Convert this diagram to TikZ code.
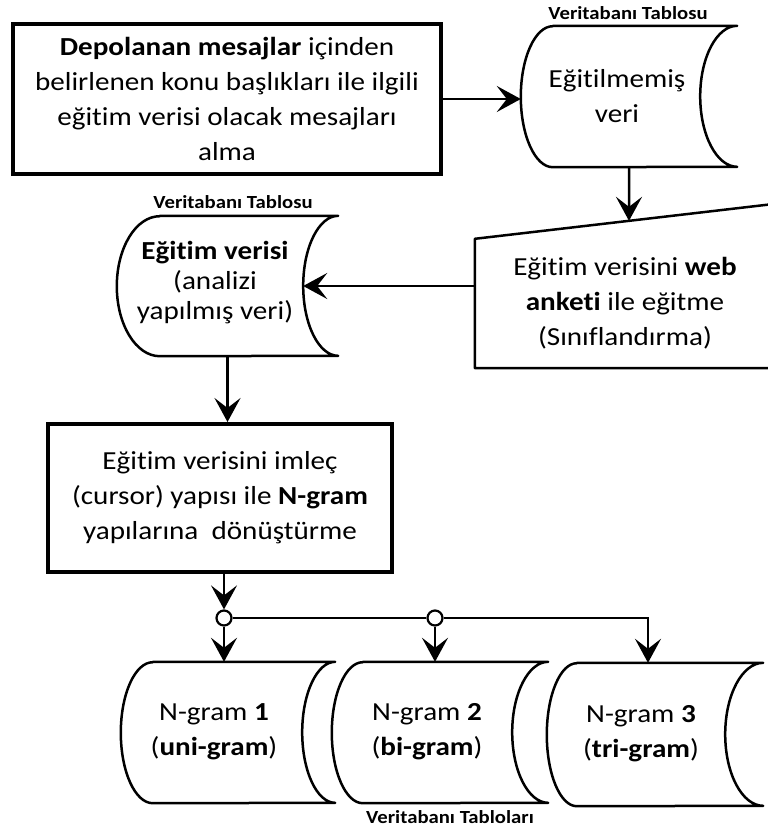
\documentclass[tikz,border=0pt]{standalone}
\usepackage{fontspec}
\setmainfont{Carlito}[FakeStretch=1.12, Ligatures=NoCommon]
\usetikzlibrary{arrows.meta,calc}

% outline of a "stored data" symbol drawn on a region node
% #1 node, #2 left bulge radius, #3 right hollow radius, #4 half height
\newcommand\storedoutline[4]{%
  \draw[storeline] ([xshift=#2pt]#1.north west) -- (#1.north east)
    arc[start angle=90, end angle=270, x radius=#3pt, y radius=#4pt]
    -- ([xshift=#2pt]#1.south west)
    arc[start angle=270, end angle=90, x radius=#2pt, y radius=#4pt]
    -- cycle;}

\tikzset{
  flowbox/.style={draw, rectangle, line width=4pt, inner sep=0pt, align=center,
                  font=\fontsize{26}{35}\selectfont},
  region/.style={rectangle, inner sep=0pt},
  storeline/.style={line width=2.5pt, line join=round},
  txt/.style={align=center, inner sep=0pt, font=\fontsize{26}{35}\selectfont},
  tag/.style={inner sep=0pt, font=\bfseries\fontsize{18.5}{20}\selectfont},
  flow/.style={line width=2.5pt, -{Stealth[length=24pt,width=26pt,inset=10pt]}},
  link/.style={line width=2.5pt},
  junction/.style={circle, draw, fill=white, line width=2.2pt, minimum size=15pt, inner sep=0pt},
}

\begin{document}
\begin{tikzpicture}[x=1pt, y=-1pt]
\useasboundingbox (0,0) rectangle (768,830);
\clip (0,0) rectangle (768,830);

% first step
\node[flowbox, minimum width=428pt, minimum height=150pt] (take) at (227,99)
  {\textbf{Depolanan mesajlar} içinden\\belirlenen konu başlıkları ile ilgili\\eğitim verisi olacak mesajları\\alma};

% raw data table
\node[region, minimum width=216pt, minimum height=141pt] (raw) at (629,96.5) {};
\storedoutline{raw}{32}{37}{70.5}
\node[txt] (rawtext) at (617,96.5) {Eğitilmemiş\\veri};
\node[tag] (rawtag) at (628,13) {Veritabanı Tablosu};

% manual classification (manual input symbol)
\node[region, txt, minimum width=300pt, minimum height=129pt] (web) at (625,303.5)
  {Eğitim verisini \textbf{web}\\\textbf{anketi} ile eğitme\\(Sınıflandırma)};
\coordinate (webne) at ([yshift=35pt]web.north east);
\draw[storeline] (web.north west) -- (webne) -- (web.south east) -- (web.south west) -- cycle;
\path (web.north west) -- (webne) coordinate[pos=0.5133] (webin);

% training data table
\node[region, minimum width=221pt, minimum height=140pt] (train) at (227.5,286) {};
\storedoutline{train}{43}{35}{70}
\node[txt, font=\fontsize{26}{30}\selectfont] (traintext) at (215,283)
  {\textbf{Eğitim verisi}\\(analizi\\yapılmış veri)};
\node[tag] (traintag) at (233,202) {Veritabanı Tablosu};

% conversion step
\node[flowbox, minimum width=344pt, minimum height=148pt] (convert) at (220,498)
  {Eğitim verisini imleç\\(cursor) yapısı ile \textbf{N-gram}\\yapılarına\ \ dönüştürme};

% n-gram tables
\node[region, minimum width=214pt, minimum height=141pt] (uni) at (228,732.5) {};
\storedoutline{uni}{32}{33}{70.5}
\node[txt] (unitext) at (214,732) {N-gram \textbf{1}\\(\textbf{uni-gram})};

\node[region, minimum width=216pt, minimum height=141pt] (bi) at (440,732.5) {};
\storedoutline{bi}{31}{36}{70.5}
\node[txt] (bitext) at (427,732) {N-gram \textbf{2}\\(\textbf{bi-gram})};

\node[region, minimum width=216pt, minimum height=143pt] (tri) at (655,734.5) {};
\storedoutline{tri}{30}{38}{71.5}
\node[txt] (tritext) at (641,734) {N-gram \textbf{3}\\(\textbf{tri-gram})};

\node[tag] (gramtag) at (450,817) {Veritabanı Tabloları};

% branching
\node[junction] (j1) at (224,618) {};
\node[junction] (j2) at (435,618) {};
\coordinate (bend) at (648,618);

% connectors
\draw[flow] (take.east) -- (take.east -| raw.west);
\draw[flow] (raw.south) -- (webin);
\draw[flow] (web.west |- train.east) -- ([xshift=-35pt]train.east);
\draw[flow] (train.south) -- (train.south |- convert.north);
\draw[flow] (convert.south -| j1) -- (j1.north);
\draw[flow] (j1.south) -- (j1 |- uni.north);
\draw[link] (j1.east) -- (j2.west);
\draw[flow] (j2.south) -- (j2 |- bi.north);
\draw[flow] (j2.east) -- (bend) -- (bend |- tri.north);
\end{tikzpicture}
\end{document}
